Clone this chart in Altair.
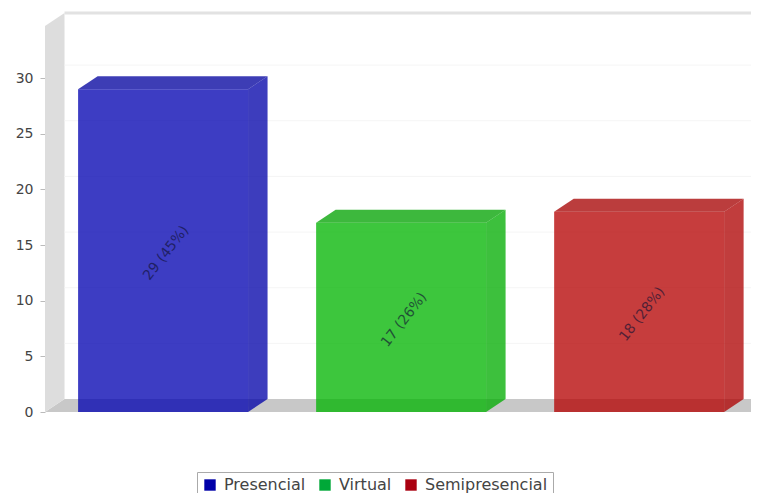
import altair as alt
import pandas as pd

categories = ["Presencial", "Virtual", "Semipresencial"]
values = [29, 17, 18]
labels = ["29 (45%)", "17 (26%)", "18 (28%)"]
legend_colors = ["#0000A8", "#00A838", "#AA0010"]
face_colors = ["#0000B0", "#00B400", "#B40000"]
top_colors = ["#00009E", "#00A200", "#A60000"]
side_colors = ["#0000A8", "#00AC00", "#AE0000"]
y_ticks = [0, 5, 10, 15, 20, 25, 30]

Y_MAX = 35.85
X_MAX = 2.966   # visible share of the three category slots
DX = 0.082      # 3-D depth, in category slots
DY = 1.168      # 3-D depth, in value units
L = 0.139       # bar start inside its slot
R = 0.853       # bar end inside its slot

front = pd.DataFrame({
    "series": categories,
    "l": [i + L for i in range(3)],
    "r": [i + R for i in range(3)],
    "v": values,
    "mid": [v / 2 for v in values],
    "cx": [i + (L + R) / 2 for i in range(3)],
    "label": labels,
})

xs = alt.Scale(domain=[0, X_MAX], nice=False, zero=False)
ys = alt.Scale(domain=[0, Y_MAX], nice=False, zero=False)
y_axis = alt.Axis(values=y_ticks, domain=False, grid=False, tickColor="#BBBBBB", tickSize=5,
                  labelFont="DejaVu Sans", labelFontSize=14, labelColor="#444444", labelPadding=7,
                  format="d", title=None)
X = alt.X("x:Q", scale=xs, axis=None)
Y = alt.Y("y:Q", scale=ys, axis=y_axis, title=None)

floor = alt.Chart(pd.DataFrame({"x": [0, DX, X_MAX], "y": [0, 0, 0], "y2": [0, DY, DY]})).mark_area(
    color="#C8C8C8").encode(x=X, y=Y, y2="y2:Q")
wall = alt.Chart(pd.DataFrame({"x": [0, DX], "y": [0, DY], "y2": [Y_MAX - DY, Y_MAX]})).mark_area(
    color="#DDDDDD").encode(x=X, y=Y, y2="y2:Q")
grid = alt.Chart(pd.DataFrame({"y": [t + DY for t in y_ticks[1:]], "x": [DX] * 6, "x2": [X_MAX] * 6})).mark_rule(
    color="#F5F5F5", strokeWidth=1).encode(x=X, x2="x2:Q", y=Y)
top_line = alt.Chart(pd.DataFrame({"y": [Y_MAX], "x": [DX], "x2": [X_MAX]})).mark_rule(
    color="#E2E2E2", strokeWidth=3).encode(x=X, x2="x2:Q", y=Y)

BX = alt.X("l:Q", scale=xs, axis=None)
BY = alt.Y("v:Q", scale=ys, axis=y_axis, title=None)

solid_layers = []
for i, (c, v) in enumerate(zip(categories, values)):
    l, r = i + L, i + R
    side_df = pd.DataFrame({"x": [r, r + DX], "y": [0, DY], "y2": [v, v + DY]})
    top_df = pd.DataFrame({"x": [l, l + DX, r, r + DX], "y": [v, v, v, v + DY],
                           "y2": [v, v + DY, v + DY, v + DY]})
    solid_layers.append(alt.Chart(side_df).mark_area(opacity=0.76, color=side_colors[i]).encode(
        x=X, y=Y, y2="y2:Q"))
    solid_layers.append(alt.Chart(top_df).mark_area(opacity=0.76, color=top_colors[i]).encode(
        x=X, y=Y, y2="y2:Q"))
    solid_layers.append(alt.Chart(front.iloc[[i]]).mark_rect(opacity=0.76, color=face_colors[i]).encode(
        x=BX, x2="r:Q", y=BY, y2=alt.datum(0)))

legend_bars = alt.Chart(front).mark_rect(opacity=0).encode(
    x=BX, x2="r:Q", y=BY, y2=alt.datum(0),
    color=alt.Color("series:N", sort=categories,
                    scale=alt.Scale(domain=categories, range=legend_colors),
                    legend=alt.Legend(
                        title=None, orient="none", legendX=152, legendY=459, direction="horizontal",
                        columns=3, symbolType="square", symbolSize=130, symbolOpacity=1,
                        symbolStrokeWidth=0, labelFont="DejaVu Sans", labelFontSize=16,
                        labelColor="#444444", strokeColor="#AAAAAA", fillColor="#FFFFFF",
                        padding=5, columnPadding=11, labelOffset=6, symbolOffset=0)))
text = alt.Chart(front).mark_text(angle=308, font="DejaVu Sans", fontSize=14, color="#111133", opacity=0.65, dy=4).encode(
    x=alt.X("cx:Q", scale=xs, axis=None), y=alt.Y("mid:Q", scale=ys, axis=y_axis, title=None), text="label:N")

chart = alt.layer(floor, wall, grid, top_line, *solid_layers, legend_bars, text).properties(
    width=706, height=399,
    padding={"left": 37, "top": 5, "right": 0, "bottom": 81},
    autosize=alt.AutoSizeParams(type="none", contains="content"),
).configure_view(stroke=None)

chart.save("out.html", embed_options={"renderer": "svg", "actions": False})
